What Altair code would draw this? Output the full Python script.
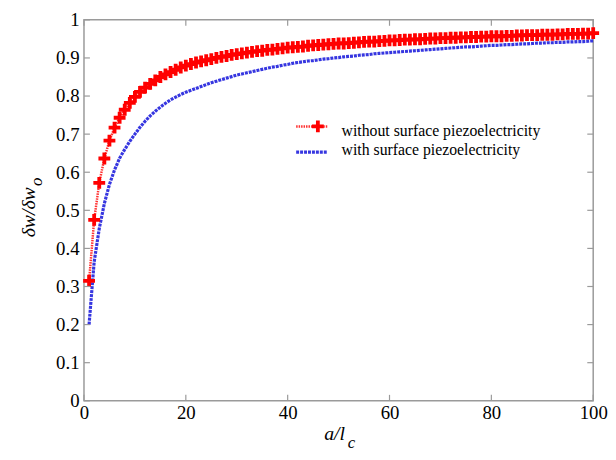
import altair as alt
import pandas as pd

x_vals = list(range(1, 101))

red_vals = [
    0.315, 0.475, 0.572, 0.636, 0.683, 0.717, 0.743, 0.764, 0.782, 0.798,
    0.811, 0.822, 0.832, 0.841, 0.850, 0.857, 0.863, 0.869, 0.875, 0.880,
    0.884, 0.888, 0.891, 0.894, 0.897, 0.900, 0.903, 0.905, 0.908, 0.910,
    0.912, 0.914, 0.916, 0.918, 0.919, 0.921, 0.922, 0.924, 0.925, 0.927,
    0.928, 0.929, 0.930, 0.932, 0.933, 0.934, 0.935, 0.936, 0.937, 0.938,
    0.938, 0.939, 0.940, 0.941, 0.942, 0.943, 0.943, 0.944, 0.945, 0.946,
    0.946, 0.947, 0.948, 0.948, 0.949, 0.949, 0.950, 0.951, 0.951, 0.952,
    0.952, 0.953, 0.953, 0.954, 0.954, 0.955, 0.955, 0.956, 0.956, 0.957,
    0.957, 0.957, 0.958, 0.958, 0.959, 0.959, 0.960, 0.960, 0.960, 0.961,
    0.961, 0.961, 0.962, 0.962, 0.963, 0.963, 0.963, 0.964, 0.964, 0.965,
]

blue_vals = [
    0.200, 0.365, 0.452, 0.518, 0.568, 0.606, 0.637, 0.660, 0.681, 0.700,
    0.718, 0.734, 0.748, 0.760, 0.771, 0.781, 0.790, 0.797, 0.804, 0.810,
    0.815, 0.820, 0.825, 0.830, 0.835, 0.839, 0.843, 0.847, 0.851, 0.855,
    0.858, 0.861, 0.864, 0.867, 0.870, 0.873, 0.876, 0.878, 0.881, 0.883,
    0.886, 0.888, 0.890, 0.892, 0.893, 0.895, 0.897, 0.898, 0.900, 0.901,
    0.903, 0.904, 0.905, 0.907, 0.908, 0.909, 0.911, 0.912, 0.913, 0.914,
    0.915, 0.916, 0.917, 0.918, 0.919, 0.920, 0.921, 0.922, 0.923, 0.924,
    0.925, 0.926, 0.927, 0.928, 0.929, 0.929, 0.930, 0.931, 0.932, 0.933,
    0.933, 0.934, 0.935, 0.935, 0.936, 0.937, 0.937, 0.938, 0.939, 0.939,
    0.940, 0.940, 0.941, 0.941, 0.942, 0.942, 0.943, 0.943, 0.944, 0.945,
]

x_ticks = [0, 20, 40, 60, 80, 100]
y_ticks = [0, 0.1, 0.2, 0.3, 0.4, 0.5, 0.6, 0.7, 0.8, 0.9, 1.0]

label_red = "without surface piezoelectricity"
label_blue = "with surface piezoelectricity"

W, H = 516, 386
FONT = "Liberation Serif"
RED = "#ff0000"
BLUE = "#3636e0"
FRAME = "#9a9a9a"
PLUS = "M-0.32,-1H0.32V-0.32H1V0.32H0.32V1H-0.32V0.32H-1V-0.32H-0.32Z"

red_df = pd.DataFrame({"x": x_vals, "y": red_vals})
blue_df = pd.DataFrame({"x": x_vals, "y": blue_vals})
xt_df = pd.DataFrame({"x": x_ticks})
yt_df = pd.DataFrame({"y": y_ticks})
one = pd.DataFrame({"k": [0]})

xs = alt.Scale(domain=[0, 100], nice=False)
ys = alt.Scale(domain=[0, 1], nice=False)

x_axis = alt.Axis(values=x_ticks, title=None, labelPadding=3, labelFlush=False, labelOverlap=False,
                  labelFont=FONT, labelFontSize=19, labelColor="black")
y_axis = alt.Axis(values=y_ticks, title=None, labelPadding=5, labelFlush=False, labelOverlap=False,
                  labelFont=FONT, labelFontSize=19, labelColor="black",
                  labelExpr="datum.value == 0 ? '0' : datum.value == 1 ? '1' : format(datum.value, '.1f')")
X = alt.X("x:Q", scale=xs, axis=x_axis)
Y = alt.Y("y:Q", scale=ys, axis=y_axis)

blue_line = alt.Chart(blue_df).mark_line(color=BLUE, strokeWidth=3.2, strokeDash=[3, 1]).encode(x=X, y=Y)
red_line = alt.Chart(red_df).mark_line(color="#ff3030", strokeWidth=2.5, strokeDash=[1.5, 1]).encode(x=X, y=Y)
red_pts = alt.Chart(red_df).mark_point(shape=PLUS, filled=True, size=144, color=RED, opacity=1).encode(x=X, y=Y)

tick_b = alt.Chart(xt_df).mark_rule(color=FRAME, strokeWidth=1.2).encode(x=X, y=alt.value(H), y2=alt.value(H - 6))
tick_t = alt.Chart(xt_df).mark_rule(color=FRAME, strokeWidth=1.2).encode(x=X, y=alt.value(0), y2=alt.value(6))
tick_l = alt.Chart(yt_df).mark_rule(color=FRAME, strokeWidth=1.2).encode(y=Y, x=alt.value(0), x2=alt.value(6))
tick_r = alt.Chart(yt_df).mark_rule(color=FRAME, strokeWidth=1.2).encode(y=Y, x=alt.value(W), x2=alt.value(W - 6))

leg_red_line = alt.Chart(one).mark_rule(color="#ff3030", strokeWidth=2.5, strokeDash=[1.5, 1]).encode(
    x=alt.value(215), x2=alt.value(247), y=alt.value(108))
leg_red_pt = alt.Chart(one).mark_point(shape=PLUS, filled=True, size=144, color=RED, opacity=1).encode(
    x=alt.value(237), y=alt.value(108))
leg_blue_line = alt.Chart(one).mark_rule(color=BLUE, strokeWidth=3.2, strokeDash=[3, 1]).encode(
    x=alt.value(215), x2=alt.value(247), y=alt.value(134))
leg_red_txt = alt.Chart(one).mark_text(font=FONT, fontSize=16, align="left", baseline="middle", color="black").encode(
    x=alt.value(261), y=alt.value(113), text=alt.value(label_red))
leg_blue_txt = alt.Chart(one).mark_text(font=FONT, fontSize=16, align="left", baseline="middle", color="black").encode(
    x=alt.value(261), y=alt.value(132), text=alt.value(label_blue))

ytitle = alt.Chart(one).mark_text(font=FONT, fontSize=20, fontStyle="italic", angle=270, align="center",
                                  baseline="middle", color="black").encode(
    x=alt.value(-56), y=alt.value(195), text=alt.value("δw/δw"))
ysub = alt.Chart(one).mark_text(font=FONT, fontSize=17, fontStyle="italic", angle=270, align="center",
                                baseline="middle", color="black").encode(
    x=alt.value(-48), y=alt.value(164), text=alt.value("o"))
xtitle = alt.Chart(one).mark_text(font=FONT, fontSize=20, fontStyle="italic", align="center",
                                  baseline="middle", color="black").encode(
    x=alt.value(254), y=alt.value(420), text=alt.value("a/l"))
xsub = alt.Chart(one).mark_text(font=FONT, fontSize=17, fontStyle="italic", align="center",
                                baseline="middle", color="black").encode(
    x=alt.value(271), y=alt.value(429), text=alt.value("c"))

chart = alt.layer(
    blue_line, red_line, red_pts,
    tick_b, tick_t, tick_l, tick_r,
    leg_red_line, leg_red_pt, leg_blue_line, leg_red_txt, leg_blue_txt,
    ytitle, ysub, xtitle, xsub,
).properties(
    width=W, height=H,
    autosize=alt.AutoSizeParams(type="none"),
    padding={"left": 77, "top": 9, "right": 15, "bottom": 57},
).configure_view(
    stroke=FRAME, strokeWidth=1.5,
).configure_axis(
    grid=False, ticks=False, domain=False,
)

chart.save("out.html", embed_options={"renderer": "svg", "actions": False})
